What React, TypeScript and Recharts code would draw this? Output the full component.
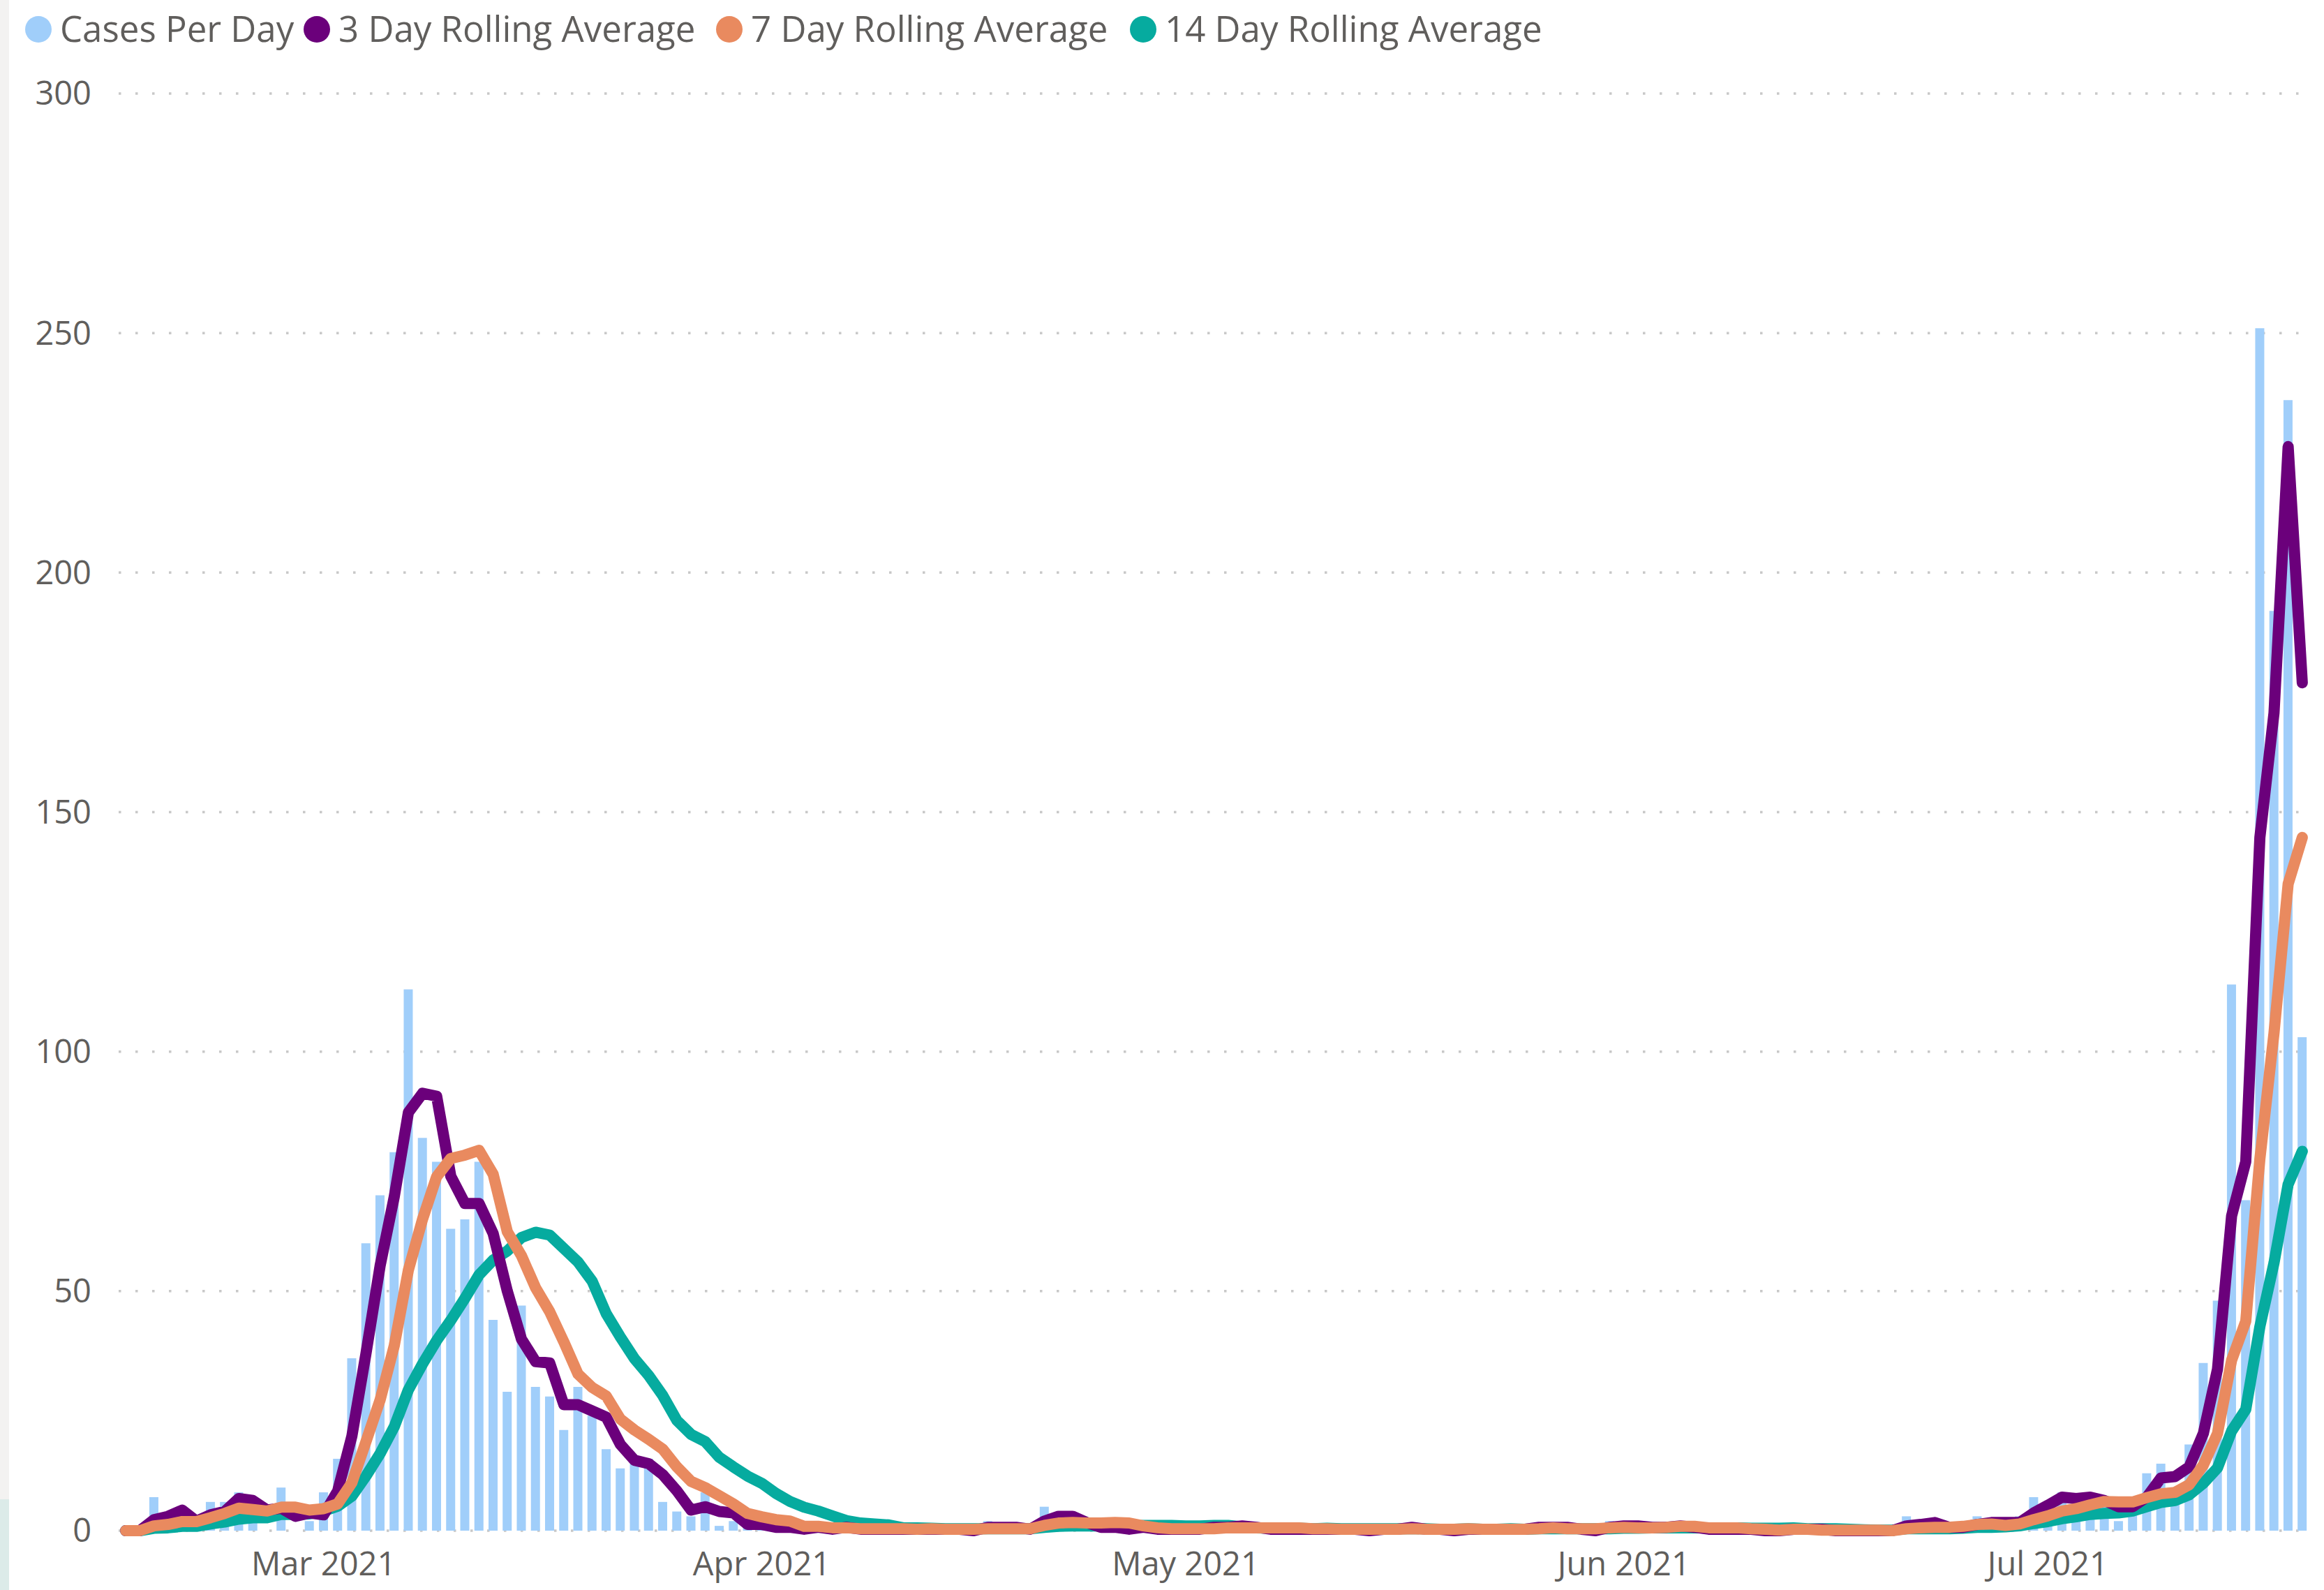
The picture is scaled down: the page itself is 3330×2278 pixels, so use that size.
import { ComposedChart, Bar, Line, XAxis, YAxis, CartesianGrid } from 'recharts'

const BLUE   = '#a0cefa'
const PURPLE = '#6b007b'
const ORANGE = '#e98a5f'
const TEAL   = '#06ab9f'
const TEXT   = '#605e5c'
const FONT   = "'Segoe UI', 'Open Sans', sans-serif"

// one row per day, starting 15 Feb 2021
const START_DAY = Date.UTC(2021, 1, 15)

const CASES = [
  0, 0, 7, 2, 4, 0, 6, 6, 8, 5,
  0, 9, 0, 2, 8, 15, 36, 60, 70, 79,
  113, 82, 77, 63, 65, 77, 44, 29, 47, 30,
  28, 21, 30, 24, 17, 13, 14, 15, 6, 4,
  3, 8, 1, 2, 1, 1, 0, 1, 0, 1,
  0, 1, 0, 0, 1, 0, 0, 1, 0, 0,
  0, 2, 0, 0, 1, 5, 3, 1, 1, 0,
  1, 0, 1, 0, 0, 1, 0, 1, 1, 1,
  0, 0, 1, 0, 0, 1, 0, 0, 0, 1,
  0, 1, 0, 0, 0, 1, 0, 0, 1, 0,
  1, 1, 0, 0, 0, 2, 1, 0, 1, 1,
  1, 0, 0, 1, 0, 0, 0, 0, 1, 0,
  0, 0, 0, 0, 0, 0, 3, 1, 1, 0,
  1, 3, 1, 1, 3, 7, 6, 8, 6, 7,
  6, 2, 7, 12, 14, 8, 18, 35, 48, 114,
  69, 251, 192, 236, 103,
]

const AVG_3 = [
  0, 0, 2.3, 3, 4.3, 2, 3.3, 4, 6.7, 6.3,
  4.3, 4.7, 3, 3.7, 3.3, 8.3, 19.7, 37, 55.3, 69.7,
  87.3, 91.3, 90.7, 74, 68.3, 68.3, 62, 50, 40, 35.3,
  35, 26.3, 26.3, 25, 23.7, 18, 14.7, 14, 11.7, 8.3,
  4.3, 5, 4, 3.7, 1.3, 1.3, 0.7, 0.7, 0.3, 0.7,
  0.3, 0.7, 0.3, 0.3, 0.3, 0.3, 0.3, 0.3, 0.3, 0.3,
  0, 0.7, 0.7, 0.7, 0.3, 2, 3, 3, 1.7, 0.7,
  0.7, 0.3, 0.7, 0.3, 0.3, 0.3, 0.3, 0.7, 0.7, 1,
  0.7, 0.3, 0.3, 0.3, 0.3, 0.3, 0.3, 0.3, 0, 0.3,
  0.3, 0.7, 0.3, 0.3, 0, 0.3, 0.3, 0.3, 0.3, 0.3,
  0.7, 0.7, 0.7, 0.3, 0, 0.7, 1, 1, 0.7, 0.7,
  1, 0.7, 0.3, 0.3, 0.3, 0.3, 0, 0, 0.3, 0.3,
  0.3, 0, 0, 0, 0, 0, 1, 1.3, 1.7, 0.7,
  0.7, 1.3, 1.7, 1.7, 1.7, 3.7, 5.3, 7, 6.7, 7,
  6.3, 5, 5, 7, 11, 11.3, 13.3, 20.3, 33.7, 65.7,
  77, 144.7, 170.7, 226.3, 177,
]

const AVG_7 = [
  0, 0, 1, 1.3, 1.9, 1.9, 2.7, 3.6, 4.7, 4.4,
  4.1, 4.9, 4.9, 4.3, 4.6, 5.6, 10, 18.6, 27.3, 38.6,
  54.4, 65, 73.9, 77.7, 78.4, 79.4, 74.4, 62.4, 57.4, 50.7,
  45.7, 39.4, 32.7, 29.9, 28.1, 23.3, 21, 19.1, 17, 13.3,
  10.3, 9, 7.3, 5.6, 3.6, 2.9, 2.3, 2, 0.9, 0.9,
  0.6, 0.6, 0.4, 0.4, 0.4, 0.4, 0.3, 0.4, 0.3, 0.3,
  0.3, 0.4, 0.4, 0.4, 0.4, 1.1, 1.6, 1.7, 1.6, 1.6,
  1.7, 1.6, 1, 0.6, 0.4, 0.4, 0.4, 0.4, 0.6, 0.6,
  0.6, 0.6, 0.6, 0.6, 0.4, 0.4, 0.3, 0.3, 0.3, 0.3,
  0.3, 0.4, 0.3, 0.3, 0.3, 0.4, 0.3, 0.3, 0.3, 0.3,
  0.4, 0.6, 0.4, 0.4, 0.4, 0.6, 0.7, 0.6, 0.6, 0.7,
  0.9, 0.9, 0.6, 0.6, 0.6, 0.4, 0.3, 0.1, 0.3, 0.3,
  0.1, 0.1, 0.1, 0.1, 0.1, 0, 0.4, 0.6, 0.7, 0.7,
  0.9, 1.3, 1.4, 1.1, 1.4, 2.3, 3.1, 4.1, 4.6, 5.4,
  6.1, 6, 6, 6.9, 7.7, 8, 9.6, 13.7, 20.3, 35.6,
  43.7, 77.6, 103.9, 135, 144.7,
]

const AVG_14 = [
  0, 0, 0.5, 0.6, 0.9, 0.9, 1.4, 1.8, 2.4, 2.7,
  2.7, 3.4, 3.4, 3.5, 4.1, 5.1, 7.2, 11.4, 16.1, 21.7,
  29.4, 34.8, 39.7, 43.9, 48.5, 53.4, 56.5, 58.4, 61.2, 62.3,
  61.7, 58.9, 56.1, 52.1, 45.3, 40.4, 35.9, 32.4, 28.2, 23,
  20.1, 18.6, 15.3, 13.3, 11.4, 9.9, 7.8, 6.1, 4.9, 4.1,
  3.1, 2.1, 1.6, 1.4, 1.2, 0.6, 0.6, 0.5, 0.4, 0.4,
  0.4, 0.4, 0.4, 0.4, 0.4, 0.7, 0.9, 1, 1, 1,
  1.1, 1, 1.1, 1.1, 1.1, 1, 1, 1.1, 1.1, 0.8,
  0.6, 0.5, 0.5, 0.5, 0.4, 0.5, 0.4, 0.4, 0.4, 0.4,
  0.4, 0.4, 0.4, 0.3, 0.3, 0.4, 0.3, 0.3, 0.4, 0.3,
  0.4, 0.4, 0.4, 0.4, 0.4, 0.4, 0.5, 0.5, 0.6, 0.6,
  0.6, 0.6, 0.6, 0.6, 0.6, 0.5, 0.5, 0.5, 0.6, 0.4,
  0.4, 0.4, 0.3, 0.2, 0.1, 0.1, 0.4, 0.4, 0.4, 0.4,
  0.5, 0.7, 0.7, 0.8, 1, 1.5, 1.9, 2.5, 2.9, 3.4,
  3.6, 3.7, 4.1, 5, 5.9, 6.3, 7.5, 9.9, 13.1, 20.8,
  25.3, 42.6, 55.9, 72.3, 79.2,
]

const Y_TICKS = [0, 50, 100, 150, 200, 250, 300]
const MONTH_DAYS   = ['2021-03-01', '2021-04-01', '2021-05-01', '2021-06-01', '2021-07-01']
const MONTH_LABELS = ['Mar 2021', 'Apr 2021', 'May 2021', 'Jun 2021', 'Jul 2021']

const LEGEND = [
  { name: 'Cases Per Day',         color: BLUE,   x: 55 },
  { name: '3 Day Rolling Average', color: PURPLE, x: 454 },
  { name: '7 Day Rolling Average', color: ORANGE, x: 1045 },
  { name: '14 Day Rolling Average', color: TEAL,  x: 1638 },
]

const data = CASES.map((c, i) => ({
  date: new Date(START_DAY + i * 86400000).toISOString().slice(0, 10),
  cases: c,
  avg3: AVG_3[i],
  avg7: AVG_7[i],
  avg14: AVG_14[i],
}))

function MonthTick({ x, y, payload }: any) {
  const k = MONTH_DAYS.indexOf(payload.value)
  if (k < 0) return <g />
  return (
    <text x={x} y={y + 64} textAnchor="middle" fill={TEXT} fontSize={47} fontFamily={FONT}>
      {MONTH_LABELS[k]}
    </text>
  )
}

function ValueTick({ x, y, payload }: any) {
  return (
    <text x={x - 39} y={y} dy="0.35em" textAnchor="end" fill={TEXT} fontSize={47} fontFamily={FONT}>
      {payload.value}
    </text>
  )
}

export default function App() {
  return (
    <div style={{ position: 'absolute', left: 0, top: 0, width: 3330, height: 2278, background: '#fff' }}>
      <div style={{ position: 'absolute', left: 0, top: 0, width: 13, height: 2148, background: '#f3f2f1' }} />
      <div style={{ position: 'absolute', left: 0, top: 2148, width: 13, height: 130, background: '#dcebe9' }} />

      <ComposedChart
        width={3330}
        height={2278}
        data={data}
        margin={{ top: 134, right: 21, bottom: 0, left: 0 }}
        barCategoryGap="17%"
      >
        <CartesianGrid
          vertical={false}
          stroke="#c8c8c8"
          strokeWidth={3.5}
          strokeDasharray="3.5 20.5"
        />
        <XAxis
          dataKey="date"
          interval={0}
          height={85}
          axisLine={false}
          tickLine={false}
          tickSize={0}
          tickMargin={0}
          tick={<MonthTick />}
        />
        <YAxis
          width={170}
          domain={[0, 300]}
          ticks={Y_TICKS}
          axisLine={false}
          tickLine={false}
          tickSize={0}
          tickMargin={0}
          tick={<ValueTick />}
        />
        <Bar dataKey="cases" fill={BLUE} isAnimationActive={false} />
        <Line
          type="linear" dataKey="avg14" stroke={TEAL} strokeWidth={16}
          strokeLinejoin="round" strokeLinecap="round"
          dot={false} activeDot={false} isAnimationActive={false}
        />
        <Line
          type="linear" dataKey="avg3" stroke={PURPLE} strokeWidth={16}
          strokeLinejoin="round" strokeLinecap="round"
          dot={false} activeDot={false} isAnimationActive={false}
        />
        <Line
          type="linear" dataKey="avg7" stroke={ORANGE} strokeWidth={16}
          strokeLinejoin="round" strokeLinecap="round"
          dot={false} activeDot={false} isAnimationActive={false}
        />
      </ComposedChart>

      {/* legend row */}
      <svg
        width={2400}
        height={90}
        style={{ position: 'absolute', left: 0, top: 0 }}
      >
        {LEGEND.map((l) => (
          <g key={l.name}>
            <circle cx={l.x} cy={42} r={19} fill={l.color} />
            <text x={l.x + 31} y={42} dy="0.35em" fill={TEXT} fontSize={51} fontFamily={FONT}>
              {l.name}
            </text>
          </g>
        ))}
      </svg>
    </div>
  )
}
